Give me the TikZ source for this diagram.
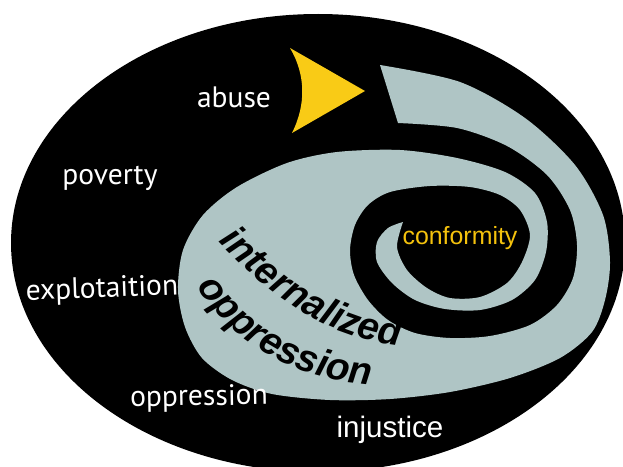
\documentclass[tikz,border=0pt]{standalone}
\usepackage{fontspec}
\usepackage{tikz}
\usetikzlibrary{decorations.text}
\newfontfamily\myr{PT Sans}
\newfontfamily\hlv{Liberation Sans}
\definecolor{spiral}{RGB}{175,197,197}
\definecolor{gold}{RGB}{249,203,22}
\definecolor{textgold}{RGB}{244,194,13}
\newcommand{\wordfont}{\myr\fontsize{21}{24}\selectfont}
\newcommand{\bigfont}{\hlv\bfseries\itshape\fontsize{27.4}{30}\selectfont}

\begin{document}
\begin{tikzpicture}[x=0.025cm, y=-0.025cm]
         \useasboundingbox (0,0) rectangle (623,466);
         \clip (0,0) rectangle (623,466);
         \fill [black] (318,243) ellipse [x radius=307, y radius=229];
         \fill [spiral] plot [smooth] coordinates {(380,65) (460,82) (525,118) (575,165) (603,215) (610,262) (605,300) (592,332) (560,358) (510,378) (450,392) (390,399) (330,400) (272,394) (232,380) (202,358) (185,327) (178,290) (183,250) (203,215) (237,187) (287,163) (337,152) (400,150) (457,158) (505,172) (535,193) (547,222) (546,252) (535,280) (512,300) (480,310) (445,309) (415,300) (392,283) (377,262) (377,242) (388,228) (403,222)}
               -- plot [smooth] coordinates {(403,222) (397,247) (407,270) (427,288) (450,298) (480,297) (507,283) (522,262) (530,235) (520,210) (500,195) (470,187) (430,186) (390,192) (368,205) (355,225) (350,250) (354,275) (368,300) (388,320) (415,333) (450,338) (490,336) (530,325) (557,305) (573,278) (577,245) (570,210) (547,175) (507,146) (457,128) (398,123)}
               -- cycle;
         \fill [gold] (290,48) -- (365,91) -- (292,133) .. controls (306,105) and (306,75) .. (290,48) -- cycle;
         \node [white, inner sep=0, font=\wordfont] (AB) at (234,97) {abuse};
         \node [white, inner sep=0, font=\wordfont] (PO) at (110,178) {poverty};
         \node [white, inner sep=0, font=\wordfont, rotate=2] (EX) at (102,290) {explotaition};
         \node [white, inner sep=0, font=\wordfont, rotate=1] (OP) at (199,398) {oppression};
         \node [white, inner sep=0, font=\hlv\fontsize{21}{24}\selectfont] (IJ) at (390,430) {injustice};
         \node [textgold, inner sep=0, font=\hlv\fontsize{17.7}{20}\selectfont] (CF) at (460,238) {conformity};
         \path [decorate, decoration={text along path, text align=center, text={|\bigfont|internalized}}] (215,238) .. controls (265,292) and (325,340) .. (405,346);
         \path [decorate, decoration={text along path, text align=center, text={|\bigfont|oppression}}] (193,278) .. controls (222,335) and (290,382) .. (380,385);
\end{tikzpicture}
\end{document}
